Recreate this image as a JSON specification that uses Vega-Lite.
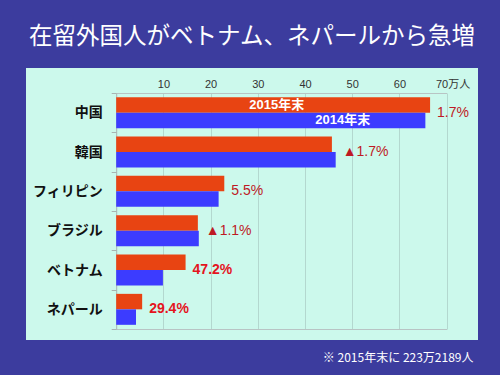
{
  "$schema": "https://vega.github.io/schema/vega-lite/v6.json",
  "width": 452,
  "height": 272,
  "autosize": {"type": "none"},
  "padding": {"left": 26, "top": 68, "right": 22, "bottom": 35},
  "background": "#3C3C9E",
  "config": {
    "view": {"fill": "#CCF9EC", "stroke": null},
    "font": "Noto Sans CJK JP"
  },
  "title": {
    "text": "在留外国人がベトナム、ネパールから急増",
    "color": "#FFFFFF",
    "fontSize": 23.5,
    "fontWeight": "normal",
    "font": "Noto Sans CJK JP",
    "anchor": "middle",
    "frame": "group",
    "offset": 13
  },
  "data": {
    "values": [
      {"country": "中国", "year": "2015", "value": 66.5, "label": "1.7%", "style": "n"},
      {"country": "中国", "year": "2014", "value": 65.5, "label": "1.7%", "style": "n"},
      {"country": "韓国", "year": "2015", "value": 45.7, "label": "▲1.7%", "style": "n"},
      {"country": "韓国", "year": "2014", "value": 46.5, "label": "▲1.7%", "style": "n"},
      {"country": "フィリピン", "year": "2015", "value": 22.9, "label": "5.5%", "style": "n"},
      {"country": "フィリピン", "year": "2014", "value": 21.7, "label": "5.5%", "style": "n"},
      {"country": "ブラジル", "year": "2015", "value": 17.3, "label": "▲1.1%", "style": "n"},
      {"country": "ブラジル", "year": "2014", "value": 17.5, "label": "▲1.1%", "style": "n"},
      {"country": "ベトナム", "year": "2015", "value": 14.7, "label": "47.2%", "style": "e"},
      {"country": "ベトナム", "year": "2014", "value": 9.9, "label": "47.2%", "style": "e"},
      {"country": "ネパール", "year": "2015", "value": 5.5, "label": "29.4%", "style": "e"},
      {"country": "ネパール", "year": "2014", "value": 4.2, "label": "29.4%", "style": "e"}
    ]
  },
  "resolve": {"axis": {"x": "independent"}},
  "layer": [
    {
      "mark": {"type": "bar"},
      "encoding": {
        "y": {
          "field": "country",
          "type": "nominal",
          "sort": ["中国", "韓国", "フィリピン", "ブラジル", "ベトナム", "ネパール"],
          "scale": {"range": [25, 261], "paddingInner": 0, "paddingOuter": 0},
          "axis": {
            "orient": "left",
            "offset": -90.2,
            "title": null,
            "tickBand": "extent",
            "tickSize": 5,
            "tickColor": "#A8B4B2",
            "domainColor": "#A8B4B2",
            "labelFontSize": 14,
            "labelFontWeight": "bold",
            "labelColor": "#111111",
            "labelPadding": 9,
            "labelFont": "Noto Sans CJK JP"
          }
        },
        "yOffset": {
          "field": "year",
          "sort": ["2015", "2014"],
          "scale": {"paddingInner": 0, "paddingOuter": 0.27}
        },
        "x": {
          "field": "value",
          "type": "quantitative",
          "scale": {"domain": [0, 70], "range": [90.2, 420.6], "nice": false, "zero": true},
          "axis": {
            "orient": "top",
            "offset": -25,
            "values": [10, 20, 30, 40, 50, 60, 70],
            "grid": true,
            "gridColor": "#B3D8CF",
            "domain": true,
            "domainColor": "#B8C4C4",
            "ticks": false,
            "labelPadding": 4,
            "labelFontSize": 11,
            "labelColor": "#333333",
            "labelFont": "Liberation Sans, Noto Sans CJK JP",
            "labelFlush": false,
            "labelBound": false,
            "labelOverlap": false,
            "labelExpr": "datum.value == 70 ? '70万人' : datum.label",
            "labelOffset": {"condition": {"test": "datum.value == 70", "value": 6}, "value": 0},
            "title": null
          }
        },
        "color": {
          "field": "year",
          "scale": {"domain": ["2015", "2014"], "range": ["#E84412", "#3C3CFF"]},
          "legend": null
        }
      }
    },
    {
      "transform": [
        {"filter": "datum.style == 'n'"},
        {"aggregate": [{"op": "max", "field": "value", "as": "maxv"}], "groupby": ["country", "label"]}
      ],
      "mark": {"type": "text", "align": "left", "baseline": "middle", "dx": 7, "fontSize": 14, "font": "Liberation Sans, DejaVu Sans", "color": "#BE1A24"},
      "encoding": {
        "y": {"field": "country", "type": "nominal", "sort": ["中国", "韓国", "フィリピン", "ブラジル", "ベトナム", "ネパール"]},
        "x": {
          "field": "maxv",
          "type": "quantitative",
          "axis": {
            "orient": "bottom",
            "offset": -11,
            "labels": false,
            "ticks": false,
            "grid": false,
            "domain": true,
            "domainColor": "#B8C4C4",
            "title": "※ 2015年末に 223万2189人",
            "titleColor": "#FFFFFF",
            "titleFontSize": 12,
            "titleFontWeight": "normal",
            "titleFont": "Noto Sans CJK JP",
            "titleAnchor": "end",
            "titleAlign": "right",
            "titleBaseline": "middle",
            "titleX": 447,
            "titleY": 28
          }
        },
        "text": {"field": "label"}
      }
    },
    {
      "transform": [
        {"filter": "datum.style == 'e'"},
        {"aggregate": [{"op": "max", "field": "value", "as": "maxv"}], "groupby": ["country", "label"]}
      ],
      "mark": {"type": "text", "align": "left", "baseline": "middle", "dx": 7, "fontSize": 14, "fontWeight": "bold", "font": "Liberation Sans", "color": "#E4141E"},
      "encoding": {
        "y": {"field": "country", "type": "nominal", "sort": ["中国", "韓国", "フィリピン", "ブラジル", "ベトナム", "ネパール"]},
        "x": {"field": "maxv", "type": "quantitative", "axis": null},
        "text": {"field": "label"}
      }
    },
    {
      "transform": [{"filter": "datum.country == '中国' && datum.year == '2015'"}],
      "mark": {"type": "text", "align": "center", "baseline": "middle", "fontSize": 13, "fontWeight": "bold", "font": "Liberation Sans, Noto Sans CJK JP", "color": "#FFFFFF"},
      "encoding": {
        "y": {"field": "country", "type": "nominal", "sort": ["中国", "韓国", "フィリピン", "ブラジル", "ベトナム", "ネパール"]},
        "yOffset": {"field": "year", "sort": ["2015", "2014"]},
        "x": {"datum": 34, "type": "quantitative", "axis": null},
        "text": {"value": "2015年末"}
      }
    },
    {
      "transform": [{"filter": "datum.country == '中国' && datum.year == '2014'"}],
      "mark": {"type": "text", "align": "center", "baseline": "middle", "fontSize": 13, "fontWeight": "bold", "font": "Liberation Sans, Noto Sans CJK JP", "color": "#FFFFFF"},
      "encoding": {
        "y": {"field": "country", "type": "nominal", "sort": ["中国", "韓国", "フィリピン", "ブラジル", "ベトナム", "ネパール"]},
        "yOffset": {"field": "year", "sort": ["2015", "2014"]},
        "x": {"datum": 48, "type": "quantitative", "axis": null},
        "text": {"value": "2014年末"}
      }
    }
  ]
}
